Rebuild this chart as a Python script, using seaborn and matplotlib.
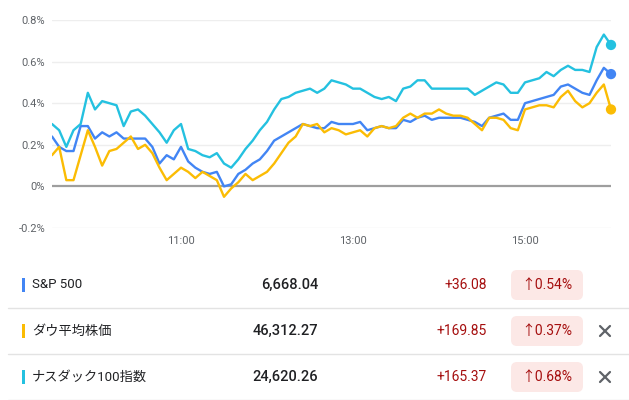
import numpy as np
import pandas as pd
import matplotlib
matplotlib.use("Agg")
import matplotlib.pyplot as plt
import seaborn as sns
from matplotlib.patches import FancyBboxPatch, Rectangle

# ---- data (percent change from previous close, every 5 minutes from 9:30) ----
minutes = list(range(0, 391, 5))

sp500 = [0.24, 0.19, 0.17, 0.17, 0.29, 0.29, 0.23, 0.26, 0.24, 0.26,
         0.23, 0.23, 0.23, 0.23, 0.19, 0.11, 0.15, 0.13, 0.19, 0.12,
         0.09, 0.07, 0.06, 0.07, 0.00, 0.01, 0.06, 0.08, 0.11, 0.13,
         0.17, 0.22, 0.24, 0.26, 0.28, 0.30, 0.29, 0.28,
         0.28, 0.31, 0.30, 0.30, 0.30, 0.31, 0.27, 0.28, 0.29, 0.28,
         0.28, 0.32, 0.31, 0.33, 0.34, 0.32, 0.33, 0.33, 0.33, 0.33,
         0.32, 0.31, 0.29, 0.33, 0.34, 0.35, 0.32, 0.32, 0.40, 0.41,
         0.42, 0.43, 0.44, 0.48, 0.49, 0.47, 0.45, 0.44, 0.51, 0.57, 0.54]

dow = [0.15, 0.19, 0.03, 0.03, 0.15, 0.27, 0.19, 0.10, 0.17, 0.18,
       0.21, 0.24, 0.18, 0.20, 0.16, 0.09, 0.03, 0.06, 0.09, 0.07,
       0.04, 0.07, 0.05, 0.03, -0.05, -0.01, 0.02, 0.06, 0.03, 0.05,
       0.07, 0.11, 0.16, 0.21, 0.24, 0.30, 0.29, 0.30,
       0.26, 0.28, 0.27, 0.25, 0.26, 0.27, 0.24, 0.28, 0.29, 0.28,
       0.29, 0.33, 0.35, 0.33, 0.35, 0.35, 0.37, 0.35, 0.34, 0.34,
       0.33, 0.30, 0.27, 0.33, 0.33, 0.32, 0.28, 0.27, 0.37, 0.38,
       0.39, 0.39, 0.38, 0.43, 0.46, 0.41, 0.38, 0.40, 0.45, 0.49, 0.37]

nasdaq100 = [0.30, 0.27, 0.19, 0.27, 0.30, 0.45, 0.37, 0.41, 0.40, 0.39,
             0.29, 0.36, 0.37, 0.34, 0.30, 0.26, 0.21, 0.27, 0.30, 0.18,
             0.17, 0.15, 0.14, 0.16, 0.11, 0.09, 0.13, 0.18, 0.22, 0.27,
             0.31, 0.37, 0.42, 0.43, 0.45, 0.46, 0.47, 0.45,
             0.47, 0.51, 0.50, 0.49, 0.47, 0.47, 0.45, 0.43, 0.42, 0.43,
             0.41, 0.47, 0.48, 0.51, 0.51, 0.47, 0.47, 0.47, 0.47, 0.47,
             0.47, 0.44, 0.46, 0.48, 0.50, 0.49, 0.45, 0.45, 0.50, 0.51,
             0.52, 0.55, 0.53, 0.56, 0.58, 0.56, 0.56, 0.55, 0.67, 0.73, 0.68]

names = ["S&P 500", "ダウ平均株価", "ナスダック100指数"]
colors = ["#4285f4", "#fbbc04", "#24c1e0"]
prices = ["6,668.04", "46,312.27", "24,620.26"]
changes = ["+36.08", "+169.85", "+165.37"]
pcts = ["↑0.54%", "↑0.37%", "↑0.68%"]
removable = [False, True, True]

y_ticks = [-0.2, 0, 0.2, 0.4, 0.6, 0.8]
y_labels = ["-0.2%", "0%", "0.2%", "0.4%", "0.6%", "0.8%"]
x_ticks = [90, 210, 330]
x_labels = ["11:00", "13:00", "15:00"]

sns.set_style("white")
plt.rcParams["font.family"] = ["Roboto", "Noto Sans CJK JP", "DejaVu Sans"]

df = pd.concat([
    pd.DataFrame({"t": minutes, "v": vals, "name": nm})
    for nm, vals in zip(names, [sp500, dow, nasdaq100])
])
last = df.groupby("name", sort=False).tail(1)

fig = plt.figure(figsize=(6.29, 4.0), dpi=100)

# background axes in pixel coordinates for the table part
tab = fig.add_axes([0, 0, 1, 1])
tab.set_xlim(0, 629)
tab.set_ylim(400, 0)
tab.axis("off")

# ---- chart ----
ax = fig.add_axes([52 / 629, 1 - 228 / 400, 559 / 629, 208 / 400])
ax.set_facecolor("none")
for y in y_ticks:
    if y == 0:
        ax.axhline(y, color="#9e9e9e", lw=1.6, zorder=1)
    else:
        ax.axhline(y, color="#eeeeee", lw=1.0, zorder=0)

sns.lineplot(data=df, x="t", y="v", hue="name", hue_order=names,
             palette=colors, linewidth=1.7, legend=False, ax=ax, zorder=3)
sns.scatterplot(data=last, x="t", y="v", hue="name", hue_order=names,
                palette=colors, s=55, edgecolor="none", legend=False,
                ax=ax, zorder=4, clip_on=False)

ax.set_xlim(0, 390)
ax.set_ylim(-0.2, 0.8)
ax.set_yticks(y_ticks)
ax.set_yticklabels(y_labels)
ax.set_xticks(x_ticks)
ax.set_xticklabels(x_labels)
ax.tick_params(axis="y", length=0, pad=5, labelsize=8, labelcolor="#5f6368")
ax.tick_params(axis="x", length=3.5, width=1.2, color="#3c4043", pad=2.5,
               labelsize=8, labelcolor="#5f6368")
ax.set_xlabel("")
ax.set_ylabel("")
for s in ax.spines.values():
    s.set_visible(False)

# ---- table ----
row_y = [285, 331, 377]
for i, y in enumerate(row_y):
    tab.add_patch(Rectangle((21.5, y - 7), 3, 14, color=colors[i], lw=0))
    tab.text(32, y, names[i], fontsize=9.5, color="#202124", va="center")
    tab.text(318, y, prices[i], fontsize=10.5, color="#202124", va="center",
             ha="right", fontweight="medium")
    tab.text(487, y, changes[i], fontsize=10, color="#a50e0e", va="center",
             ha="right")
    tab.add_patch(FancyBboxPatch((511, y - 15), 72, 30,
                                 boxstyle="round,pad=0,rounding_size=6",
                                 fc="#fce8e6", ec="none"))
    tab.text(547, y, pcts[i], fontsize=10, color="#a50e0e", va="center",
             ha="center")
    if removable[i]:
        tab.plot([600, 610], [y - 5, y + 5], color="#5f6368", lw=1.6)
        tab.plot([600, 610], [y + 5, y - 5], color="#5f6368", lw=1.6)
    tab.plot([8, 629], [y + 23, y + 23], color="#e3e3e3", lw=1)

fig.savefig("out.png", dpi=100, facecolor="white")
